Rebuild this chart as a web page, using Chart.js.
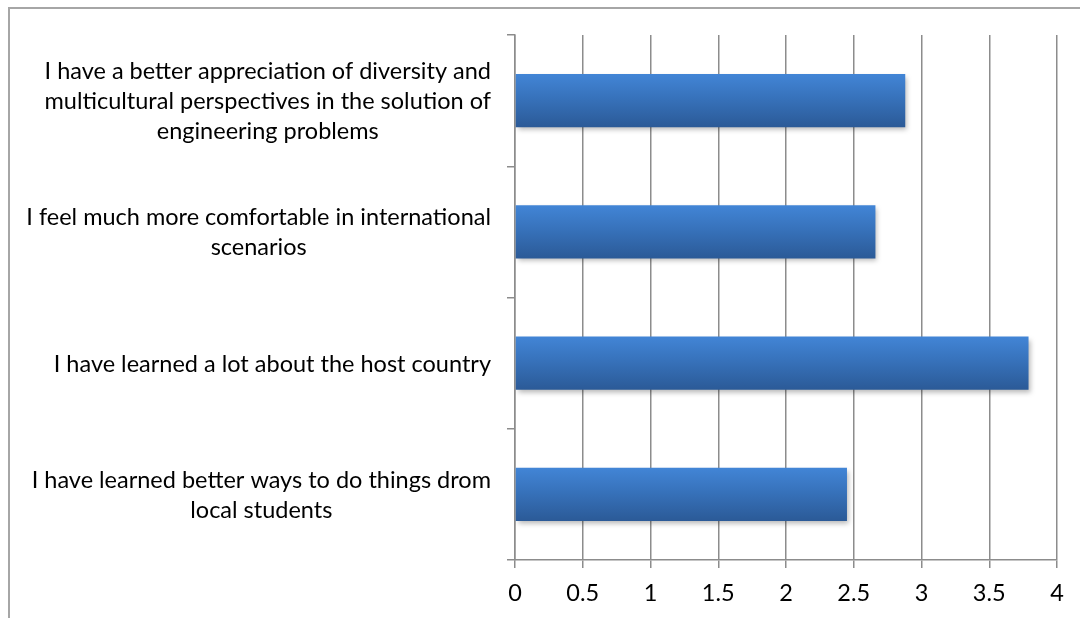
<!DOCTYPE html>
<html>
<head>
<meta charset="utf-8">
<script src="https://cdn.jsdelivr.net/npm/chart.js@4.4.1/dist/chart.umd.min.js"></script>
<style>
    html, body { margin: 0; padding: 0; background: #fff; overflow: hidden; }
    .frame { position: absolute; left: 8px; top: 7px; width: 1100px; height: 700px; border: 2px solid #a6a6a6; }
    .wrap { position: absolute; left: 0; top: 0; width: 1080px; height: 618px; }
</style>
</head>
<body>
<div class="frame"></div>
<div class="wrap"><canvas id="chart"></canvas></div>
<script>
    const categories = [
        ['I have a better appreciation of diversity and', 'multicultural perspectives in the solution of', 'engineering problems'],
        ['I feel much more comfortable in international', 'scenarios'],
        ['I have learned a lot about the host country'],
        ['I have learned better ways to do things drom', 'local students'],
    ];
    const scores = [2.88, 2.66, 3.79, 2.45];
    const xTicks = [0, 0.5, 1, 1.5, 2, 2.5, 3, 3.5, 4];

    const FONT = 'Lato, "Liberation Sans", sans-serif';
    const FONT_SIZE = 23.5;
    const gridColor = '#8c8c8c';

    // vertical gradient + soft drop shadow on each bar
    const barStyle = {
        id: 'barStyle',
        beforeDatasetsDraw(chart) {
            const ctx = chart.ctx;
            chart.getDatasetMeta(0).data.forEach((el) => {
                const top = el.y - el.height / 2;
                const g = ctx.createLinearGradient(0, top, 0, top + el.height);
                g.addColorStop(0, '#4285d6');
                g.addColorStop(0.45, '#3772bb');
                g.addColorStop(1, '#2b5a97');
                el.options = Object.assign({}, el.options, { backgroundColor: g });
            });
            ctx.save();
            ctx.shadowColor = 'rgba(0,0,0,0.28)';
            ctx.shadowBlur = 5;
            ctx.shadowOffsetX = 2;
            ctx.shadowOffsetY = 3;
        },
        afterDatasetsDraw(chart) { chart.ctx.restore(); },
    };

    // category labels: each block centered on itself, right edge next to the axis
    const categoryLabels = {
        id: 'categoryLabels',
        afterDraw(chart) {
            const scale = chart.scales.y;
            const ctx = chart.ctx;
            ctx.save();
            ctx.font = FONT_SIZE + 'px ' + FONT;
            ctx.fillStyle = '#000';
            ctx.textAlign = 'center';
            ctx.textBaseline = 'middle';
            const right = scale.right - 24;
            const lineHeight = 30;
            categories.forEach((lines, i) => {
                const y = scale.getPixelForTick(i);
                const w = Math.max(...lines.map((l) => ctx.measureText(l).width));
                const cx = right - w / 2;
                lines.forEach((line, j) => {
                    ctx.fillText(line, cx, y + 1 + (j - (lines.length - 1) / 2) * lineHeight);
                });
            });
            ctx.restore();
        },
    };

    new Chart(document.getElementById('chart'), {
        type: 'bar',
        data: {
            labels: categories,
            datasets: [{
                data: scores,
                backgroundColor: '#3772bb',
                borderWidth: 0,
                barPercentage: 0.5,
                categoryPercentage: 0.81,
            }],
        },
        plugins: [barStyle, categoryLabels],
        options: {
            indexAxis: 'y',
            responsive: true,
            maintainAspectRatio: false,
            animation: false,
            layout: { padding: { top: 35, right: 23, bottom: 0, left: 0 } },
            plugins: { legend: { display: false }, tooltip: { enabled: false } },
            scales: {
                x: {
                    min: 0,
                    max: 4,
                    afterBuildTicks: (scale) => { scale.ticks = xTicks.map((value) => ({ value })); },
                    afterFit: (scale) => { scale.height = 58; },
                    grid: { color: gridColor, lineWidth: 1.5, tickLength: 8, tickColor: gridColor },
                    border: { color: gridColor, width: 1.5 },
                    ticks: { color: '#000', padding: 11, font: { family: FONT, size: FONT_SIZE }, callback: (v) => String(v) },
                },
                y: {
                    afterFit: (scale) => { scale.width = 515; },
                    grid: { drawOnChartArea: false, offset: true, color: gridColor, lineWidth: 1.5, tickLength: 8, tickColor: gridColor },
                    border: { color: gridColor, width: 1.5 },
                    ticks: { display: false },
                },
            },
        },
    });
</script>
</body>
</html>
